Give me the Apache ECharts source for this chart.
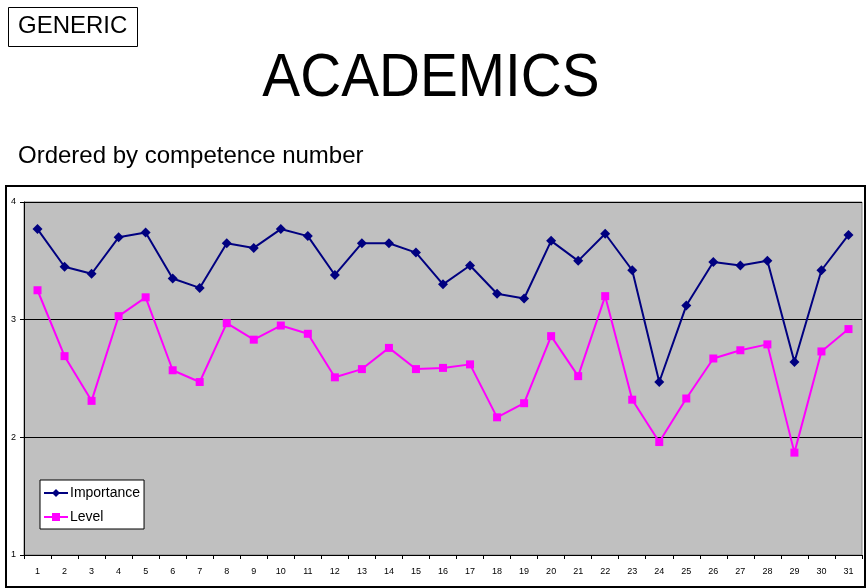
<!DOCTYPE html>
<html>
<head>
<meta charset="utf-8">
<script src="https://cdn.jsdelivr.net/npm/echarts@6/dist/echarts.min.js"></script>
<style>
  html, body { margin: 0; padding: 0; background: #fff; }
  #chart { width: 866px; height: 588px; }
</style>
</head>
<body>
<div id="chart"></div>
<script>
// competence numbers 1..31
const competences = ['1', '2', '3', '4', '5', '6', '7', '8', '9', '10', '11', '12', '13', '14', '15', '16',
  '17', '18', '19', '20', '21', '22', '23', '24', '25', '26', '27', '28', '29', '30', '31'];
const importance = [3.77, 3.45, 3.39, 3.70, 3.74, 3.35, 3.27, 3.65, 3.61, 3.77, 3.71, 3.38, 3.65, 3.65, 3.57, 3.30,
  3.46, 3.22, 3.18, 3.67, 3.50, 3.73, 3.42, 2.47, 3.12, 3.49, 3.46, 3.50, 2.64, 3.42, 3.72];
const level = [3.25, 2.69, 2.31, 3.03, 3.19, 2.57, 2.47, 2.97, 2.83, 2.95, 2.88, 2.51, 2.58, 2.76, 2.58, 2.59,
  2.62, 2.17, 2.29, 2.86, 2.52, 3.20, 2.32, 1.96, 2.33, 2.67, 2.74, 2.79, 1.87, 2.73, 2.92];

const myChart = echarts.init(document.getElementById('chart'));
const font = 'Liberation Sans, Arial, sans-serif';

const options = {
  backgroundColor: '#fff',
  animation: false,
  title: [
    {
      text: 'Ordered by competence number',
      left: 13,
      top: 139,
      textStyle: { fontFamily: font, fontSize: 24, fontWeight: 'normal', color: '#000' }
    }
  ],
  graphic: [
    // GENERIC box
    {
      type: 'rect',
      shape: { x: 8.5, y: 7.5, width: 129, height: 39 },
      style: { fill: '#fff', stroke: '#000', lineWidth: 1 }
    },
    {
      type: 'text',
      left: 18,
      top: 14,
      style: { text: 'GENERIC', fontFamily: font, fontSize: 24, fill: '#000' }
    },
    // big title
    {
      type: 'text',
      x: 431,
      y: 79,
      scaleX: 0.93,
      style: {
        text: 'ACADEMICS', fontFamily: font, fontSize: 61, fill: '#000',
        align: 'center', verticalAlign: 'middle'
      }
    },
    // chart frame
    {
      type: 'rect',
      z: -1,
      shape: { x: 6, y: 186, width: 859, height: 401 },
      style: { fill: 'none', stroke: '#000', lineWidth: 2 }
    }
  ],
  legend: {
    orient: 'vertical',
    left: 40,
    top: 480,
    padding: [6, 4, 5, 3],
    itemGap: 10,
    itemWidth: 24,
    itemHeight: 10,
    backgroundColor: '#fff',
    borderColor: '#000',
    borderWidth: 1,
    borderRadius: 0,
    textStyle: { fontFamily: font, fontSize: 14, color: '#000', padding: [0, 0, 0, -3] },
    data: ['Importance', 'Level']
  },
  grid: {
    left: 24,
    right: 4,
    top: 202,
    bottom: 33,
    show: true,
    backgroundColor: '#c0c0c0',
    borderColor: '#808080',
    borderWidth: 1
  },
  xAxis: {
    type: 'category',
    boundaryGap: true,
    data: competences,
    axisLine: { lineStyle: { color: '#000', width: 1 } },
    axisTick: { show: true, length: 4, lineStyle: { color: '#000' } },
    axisLabel: { fontFamily: font, fontSize: 9, color: '#000', margin: 12, interval: 0 },
    splitLine: { show: false }
  },
  yAxis: {
    type: 'value',
    min: 1,
    max: 4,
    interval: 1,
    axisLine: { show: true, lineStyle: { color: '#000', width: 1 } },
    axisTick: { show: true, length: 4, lineStyle: { color: '#000' } },
    axisLabel: { fontFamily: font, fontSize: 9, color: '#000', margin: 8 },
    splitLine: { show: true, lineStyle: { color: '#000', width: 1 } }
  },
  series: [
    {
      name: 'Importance',
      type: 'line',
      data: importance,
      symbol: 'diamond',
      symbolSize: 10,
      lineStyle: { color: '#000080', width: 2 },
      itemStyle: { color: '#000080' }
    },
    {
      name: 'Level',
      type: 'line',
      data: level,
      symbol: 'rect',
      symbolSize: 8,
      lineStyle: { color: '#ff00ff', width: 2 },
      itemStyle: { color: '#ff00ff' }
    }
  ]
};
myChart.setOption(options);
</script>
</body>
</html>
